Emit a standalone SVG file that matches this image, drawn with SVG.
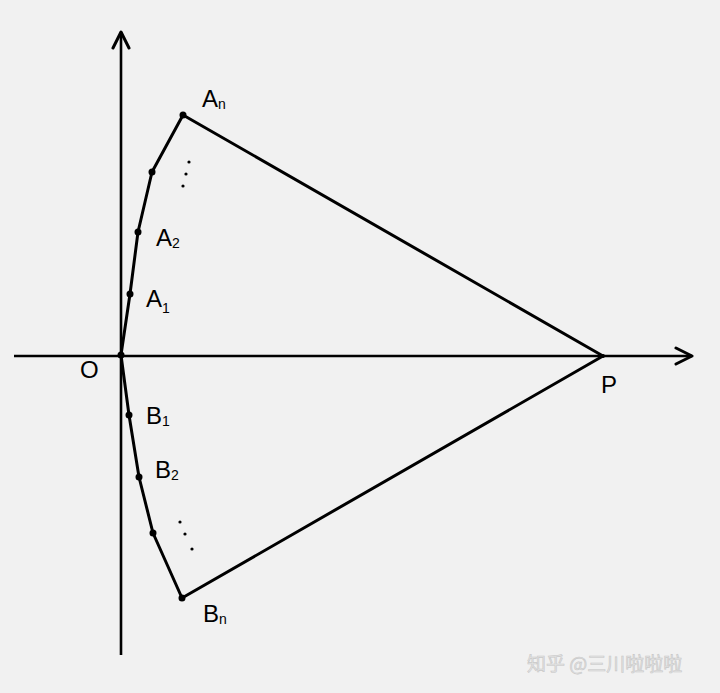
<svg xmlns="http://www.w3.org/2000/svg" width="720" height="693" viewBox="0 0 720 693">
<defs>
<marker id="arr" viewBox="0 0 20 20" refX="18" refY="10" markerWidth="20" markerHeight="20" markerUnits="userSpaceOnUse" orient="auto">
<path d="M2,2 L18,10 L2,18" fill="none" stroke="#000" stroke-width="3" stroke-linecap="round" stroke-linejoin="round"/>
</marker>
</defs>
<style>
.ax{stroke:#000;stroke-width:2.6;fill:none}
.ln{stroke:#000;stroke-width:3;fill:none;stroke-linejoin:round;stroke-linecap:round}
.pt{fill:#000}
.dot{fill:#000}
.lb{font-family:"Liberation Sans",Arial,sans-serif;font-size:24px;fill:#000}
.sb{font-size:14px}
.wm{font-family:"Noto Sans CJK SC","Liberation Sans",sans-serif;font-size:19px;fill:#e4e4e4;stroke:#c8c8c8;stroke-width:0.6}
</style>
<rect width="720" height="693" fill="#f1f1f1"/>
<g id="connectors">
<line class="ax" x1="121" y1="655" x2="121" y2="32" marker-end="url(#arr)"/>
<line class="ax" x1="14" y1="356" x2="692" y2="356" marker-end="url(#arr)"/>
<polyline class="ln" points="603,356 183,115 152,172 138,232 130,294 121,355 129,415 139,477 153,533 182,598 603,356"/>
</g>
<g id="O"><circle class="pt" cx="121" cy="355" r="3.5"/><text class="lb" x="80" y="378">O</text></g>
<g id="A1"><circle class="pt" cx="130" cy="294" r="3.5"/><text class="lb" x="146" y="307">A<tspan class="sb" dy="6">1</tspan></text></g>
<g id="A2"><circle class="pt" cx="138" cy="232" r="3.5"/><text class="lb" x="156" y="246">A<tspan class="sb" dy="2">2</tspan></text></g>
<g id="A3"><circle class="pt" cx="152" cy="172" r="3.5"/></g>
<g id="An"><circle class="pt" cx="183" cy="115" r="3.5"/><text class="lb" x="202" y="107">A<tspan class="sb" dy="2">n</tspan></text></g>
<g id="P"><circle class="pt" cx="603" cy="356" r="2"/><text class="lb" x="601" y="393">P</text></g>
<g id="B1"><circle class="pt" cx="129" cy="415" r="3.5"/><text class="lb" x="146" y="424">B<tspan class="sb" dy="2">1</tspan></text></g>
<g id="B2"><circle class="pt" cx="139" cy="477" r="3.5"/><text class="lb" x="155" y="478">B<tspan class="sb" dy="2">2</tspan></text></g>
<g id="B3"><circle class="pt" cx="153" cy="533" r="3.5"/></g>
<g id="Bn"><circle class="pt" cx="182" cy="598" r="3.5"/><text class="lb" x="203" y="622">B<tspan class="sb" dy="2">n</tspan></text></g>
<g id="dotsA"><circle class="dot" cx="189" cy="162" r="1.6"/><circle class="dot" cx="186" cy="174" r="1.6"/><circle class="dot" cx="183" cy="186" r="1.6"/></g>
<g id="dotsB"><circle class="dot" cx="180" cy="522" r="1.6"/><circle class="dot" cx="185" cy="534" r="1.6"/><circle class="dot" cx="192" cy="549" r="1.6"/></g>
<text class="wm" x="527" y="671">知乎 @三川啦啦啦</text>
</svg>
